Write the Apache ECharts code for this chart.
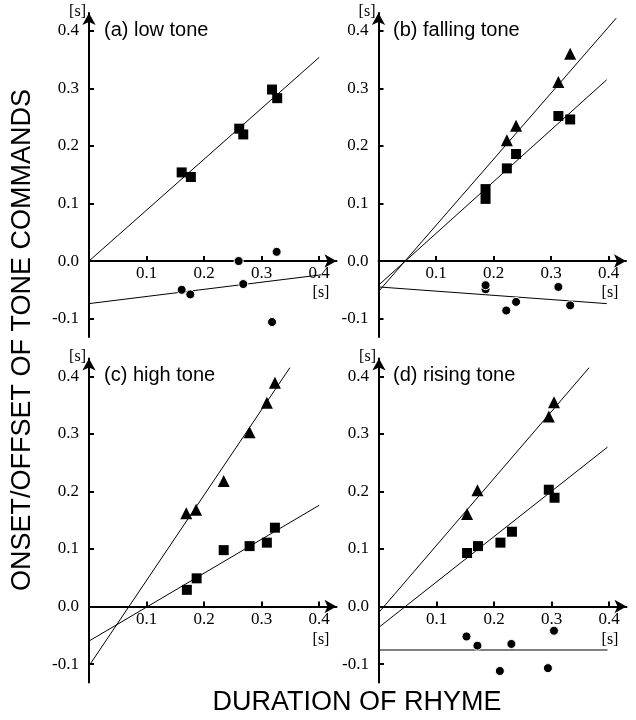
<!DOCTYPE html>
<html>
<head>
<meta charset="utf-8">
<script src="https://cdn.jsdelivr.net/npm/echarts@6/dist/echarts.min.js"></script>
<style>html,body{margin:0;padding:0;background:#fff;}#c{width:636px;height:720px;}</style>
</head>
<body>
<div id="c"></div>
<script>
// ---- data (seconds) ----
const panelTitles = ['(a) low tone', '(b) falling tone', '(c) high tone', '(d) rising tone'];
const xTickValues = [0.1, 0.2, 0.3, 0.4];
const yTickValues = [-0.1, 0.0, 0.1, 0.2, 0.3, 0.4];
const xLabel = 'DURATION OF RHYME';
const yLabel = 'ONSET/OFFSET OF TONE COMMANDS';
const unitLabel = '[s]';

// (a) low tone
const aSqX  = [0.161, 0.177, 0.261, 0.268, 0.318, 0.327];
const aSqY  = [0.154, 0.146, 0.230, 0.220, 0.298, 0.283];
const aCirX = [0.161, 0.176, 0.260, 0.268, 0.318, 0.326];
const aCirY = [-0.050, -0.058, 0.000, -0.040, -0.106, 0.016];
const aSqLineX = [0, 0.400],  aSqLineY = [0, 0.354];
const aCirLineX = [0, 0.403], aCirLineY = [-0.074, -0.024];

// (b) falling tone
const bTriX = [0.223, 0.239, 0.3125, 0.333];
const bTriY = [0.210, 0.235, 0.311, 0.360];
const bSqX  = [0.186, 0.186, 0.223, 0.239, 0.3125, 0.333];
const bSqY  = [0.125, 0.108, 0.161, 0.186, 0.252, 0.246];
const bCirX = [0.186, 0.186, 0.222, 0.239, 0.3125, 0.333];
const bCirY = [-0.049, -0.042, -0.086, -0.071, -0.045, -0.077];
const bTriLineX = [0, 0.413],  bTriLineY = [-0.053, 0.422];
const bSqLineX  = [0, 0.3965], bSqLineY  = [-0.042, 0.315];
const bCirLineX = [0, 0.3965], bCirLineY = [-0.045, -0.074];

// (c) high tone
const cTriX = [0.169, 0.186, 0.234, 0.279, 0.309, 0.323];
const cTriY = [0.162, 0.168, 0.218, 0.303, 0.354, 0.389];
const cSqX  = [0.170, 0.187, 0.234, 0.279, 0.309, 0.323];
const cSqY  = [0.029, 0.049, 0.098, 0.105, 0.111, 0.137];
const cTriLineX = [0, 0.349], cTriLineY = [-0.103, 0.415];
const cSqLineX  = [0, 0.400], cSqLineY  = [-0.060, 0.176];

// (d) rising tone
const dTriX = [0.153, 0.171, 0.295, 0.304];
const dTriY = [0.161, 0.202, 0.330, 0.355];
const dSqX  = [0.153, 0.172, 0.211, 0.231, 0.295, 0.305];
const dSqY  = [0.093, 0.105, 0.111, 0.130, 0.203, 0.189];
const dCirX = [0.152, 0.171, 0.210, 0.230, 0.2935, 0.304];
const dCirY = [-0.052, -0.068, -0.112, -0.065, -0.107, -0.042];
const dTriLineX = [0, 0.365], dTriLineY = [-0.010, 0.415];
const dSqLineX  = [0, 0.397], dSqLineY  = [-0.036, 0.277];
const dCirLineX = [0, 0.397], dCirLineY = [-0.0755, -0.0755];

// ---- build ----
const pairs = (xs, ys) => xs.map((x, i) => [x, ys[i]]);

const Y_MIN = -0.132, Y_MAX = 0.431, GRID_H = 324;
const grids = [
  {left: 89,    top: 13,    width: 247.5, height: GRID_H},
  {left: 378.5, top: 13,    width: 247.5, height: GRID_H},
  {left: 89,    top: 358.5, width: 247.5, height: GRID_H},
  {left: 379,   top: 358.5, width: 247.5, height: GRID_H}
];
// distance from the bottom grid edge up to the zero line (labels follow the zero-line axis)
const zeroOffset = (0 - Y_MIN) / (Y_MAX - Y_MIN) * GRID_H;

const fmt = v => v.toFixed(1);
const xAxes = grids.map((g, i) => ({
  type: 'value', gridIndex: i, min: 0, max: 0.43,
  axisLine: {onZero: true, lineStyle: {color: '#000', width: 2}, symbol: ['none', 'arrow'], symbolSize: [10, 12]},
  axisTick: {inside: true, length: 5, lineStyle: {color: '#000', width: 2}, customValues: xTickValues},
  axisLabel: {customValues: xTickValues, formatter: fmt, fontFamily: 'Liberation Serif', fontSize: 17, color: '#000', margin: 4 - zeroOffset},
  splitLine: {show: false}
}));
const yAxes = grids.map((g, i) => ({
  type: 'value', gridIndex: i, min: Y_MIN, max: Y_MAX,
  axisLine: {onZero: false, lineStyle: {color: '#000', width: 2}, symbol: ['none', 'arrow'], symbolSize: [10, 12]},
  axisTick: {inside: true, length: 5, lineStyle: {color: '#000', width: 2}, customValues: yTickValues},
  axisLabel: {customValues: yTickValues, formatter: fmt, fontFamily: 'Liberation Serif', fontSize: 17, color: '#000', margin: 10},
  splitLine: {show: false}
}));

const series = [];
function addLine(i, xs, ys) {
  series.push({type: 'line', xAxisIndex: i, yAxisIndex: i, data: pairs(xs, ys), showSymbol: false, symbol: 'none',
    lineStyle: {color: '#000', width: 1}, z: 2, silent: true, animation: false, clip: false});
}
function addPts(i, xs, ys, kind) {
  const sym = kind === 'sq' ? 'rect' : kind === 'tri' ? 'triangle' : 'circle';
  const size = kind === 'sq' ? 10 : kind === 'tri' ? 12 : 9;
  series.push({type: 'scatter', xAxisIndex: i, yAxisIndex: i, data: pairs(xs, ys), symbol: sym, symbolSize: size,
    itemStyle: {color: '#000', borderColor: kind === 'cir' ? '#fff' : '#000', borderWidth: kind === 'cir' ? 1 : 0, opacity: 1},
    z: 3, animation: false});
}

addLine(0, aSqLineX, aSqLineY); addLine(0, aCirLineX, aCirLineY);
addPts(0, aSqX, aSqY, 'sq'); addPts(0, aCirX, aCirY, 'cir');

addLine(1, bTriLineX, bTriLineY); addLine(1, bSqLineX, bSqLineY); addLine(1, bCirLineX, bCirLineY);
addPts(1, bTriX, bTriY, 'tri'); addPts(1, bSqX, bSqY, 'sq'); addPts(1, bCirX, bCirY, 'cir');

addLine(2, cTriLineX, cTriLineY); addLine(2, cSqLineX, cSqLineY);
addPts(2, cTriX, cTriY, 'tri'); addPts(2, cSqX, cSqY, 'sq');

addLine(3, dTriLineX, dTriLineY); addLine(3, dSqLineX, dSqLineY); addLine(3, dCirLineX, dCirLineY);
addPts(3, dTriX, dTriY, 'tri'); addPts(3, dSqX, dSqY, 'sq'); addPts(3, dCirX, dCirY, 'cir');

const serif = 'Liberation Serif', sans = 'Liberation Sans';
const graphic = [];
const titlePos = [[104, 30], [393, 30], [104, 375], [393, 375]];
panelTitles.forEach((t, i) => graphic.push({type: 'text', x: titlePos[i][0], y: titlePos[i][1],
  style: {text: t, font: '20px ' + sans, fill: '#000', textAlign: 'left', textVerticalAlign: 'middle'}}));
// y-axis units
[[86, 11.5], [375.5, 11.5], [86, 357], [376, 357]].forEach(p => graphic.push({type: 'text', x: p[0], y: p[1],
  style: {text: unitLabel, font: '16px ' + serif, fill: '#000', textAlign: 'right', textVerticalAlign: 'middle'}}));
// x-axis units
[[321, 293], [610, 293], [321, 640], [610, 640]].forEach(p => graphic.push({type: 'text', x: p[0], y: p[1],
  style: {text: unitLabel, font: '16px ' + serif, fill: '#000', textAlign: 'center', textVerticalAlign: 'middle'}}));
graphic.push({type: 'text', x: 357, y: 703, style: {text: xLabel, font: '27px ' + sans, fill: '#000', textAlign: 'center', textVerticalAlign: 'middle'}});
graphic.push({type: 'text', x: 23, y: 340, rotation: Math.PI / 2, style: {text: yLabel, font: '27px ' + sans, fill: '#000', textAlign: 'center', textVerticalAlign: 'middle'}});

const chart = echarts.init(document.getElementById('c'), null, {renderer: 'canvas'});
chart.setOption({
  animation: false,
  backgroundColor: '#fff',
  grid: grids,
  xAxis: xAxes,
  yAxis: yAxes,
  series: series,
  graphic: graphic
});
</script>
</body>
</html>
